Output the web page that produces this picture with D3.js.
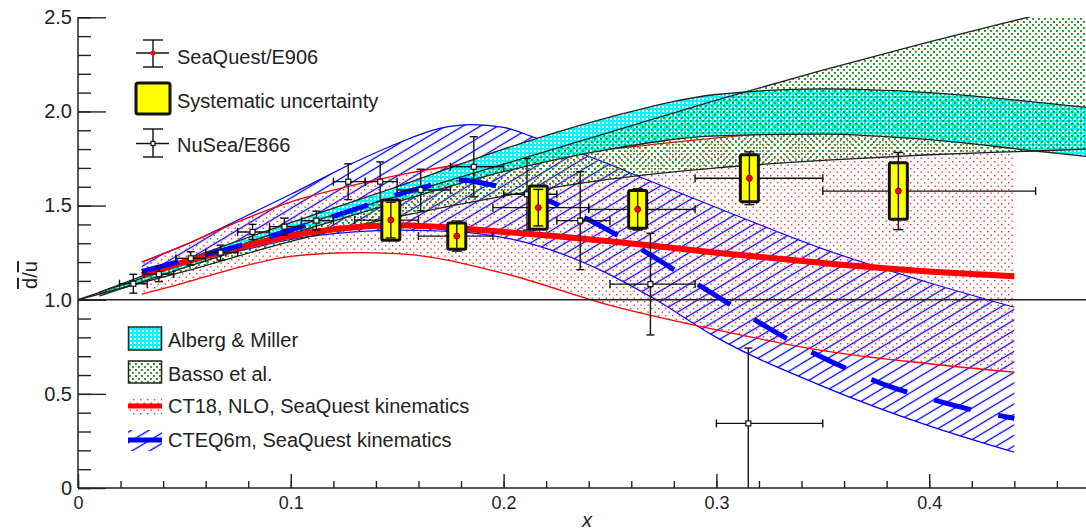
<!DOCTYPE html>
<html>
<head>
<meta charset="utf-8">
<script src="https://cdn.jsdelivr.net/npm/d3@7"></script>
<style>
  body { margin: 0; background: #fff; }
  svg { display: block; }
  text { font-family: "Liberation Sans", Arial, sans-serif; fill: #222; }
</style>
</head>
<body>
<div id="chart"></div>
<script>
const width = 1086;
const height = 531;

// NuSea/E866 points
const e866X   = [0.026, 0.038, 0.053, 0.067, 0.082, 0.097, 0.112, 0.127, 0.142, 0.161, 0.186, 0.211, 0.236, 0.269, 0.315];
const e866Y   = [1.085, 1.136, 1.22, 1.25, 1.36, 1.388, 1.42, 1.627, 1.627, 1.583, 1.706, 1.56, 1.42, 1.083, 0.343];
const e866Err = [0.05, 0.04, 0.035, 0.04, 0.04, 0.045, 0.05, 0.095, 0.105, 0.11, 0.16, 0.19, 0.26, 0.27, 0.40];
const e866XLo = [0.0195, 0.031, 0.046, 0.06, 0.075, 0.09, 0.105, 0.12, 0.135, 0.15, 0.175, 0.2, 0.225, 0.25, 0.30];
const e866XHi = [0.0325, 0.045, 0.06, 0.075, 0.09, 0.105, 0.12, 0.135, 0.15, 0.175, 0.2, 0.225, 0.25, 0.29, 0.35];

// SeaQuest/E906 points
const sqX    = [0.147, 0.178, 0.2163, 0.263, 0.3155, 0.3855];
const sqY    = [1.423, 1.338, 1.489, 1.48, 1.645, 1.577];
const sqStat = [0.095, 0.08, 0.097, 0.11, 0.14, 0.205];
const sqSys  = [0.107, 0.07, 0.115, 0.10, 0.125, 0.15];
const sqXLo  = [0.13, 0.16, 0.195, 0.24, 0.29, 0.35];
const sqXHi  = [0.16, 0.195, 0.24, 0.29, 0.35, 0.45];

// CT18 NLO band
const ct18X   = [0.03, 0.05, 0.07, 0.1, 0.13, 0.15, 0.2, 0.25, 0.3, 0.35, 0.4, 0.44];
const ct18Mid = [1.13, 1.20, 1.26, 1.34, 1.385, 1.395, 1.36, 1.31, 1.25, 1.195, 1.15, 1.125];
const ct18Hi  = [1.20, 1.29, 1.39, 1.52, 1.61, 1.66, 1.75, 1.80, 1.86, 1.91, 1.95, 1.98];
const ct18Lo  = [1.03, 1.09, 1.155, 1.23, 1.25, 1.245, 1.14, 0.97, 0.84, 0.73, 0.66, 0.615];

// CTEQ6m band
const cteqX  = [0.03, 0.05, 0.08, 0.1, 0.13, 0.15, 0.17, 0.185, 0.2, 0.215, 0.245, 0.27, 0.3, 0.35, 0.4, 0.44];
const cteqHi = [1.20, 1.29, 1.45, 1.56, 1.73, 1.83, 1.91, 1.93, 1.915, 1.86, 1.74, 1.625, 1.49, 1.27, 1.09, 0.96];
const cteqLo = [1.13, 1.19, 1.27, 1.32, 1.36, 1.37, 1.365, 1.355, 1.33, 1.29, 1.16, 1.01, 0.80, 0.54, 0.33, 0.19];
const cteqMidX = [0.03, 0.05, 0.08, 0.1, 0.13, 0.16, 0.18, 0.2, 0.22, 0.24, 0.26, 0.28, 0.3, 0.32, 0.34, 0.36, 0.38, 0.4, 0.42, 0.44];
const cteqMid  = [1.15, 1.21, 1.30, 1.37, 1.48, 1.59, 1.635, 1.595, 1.53, 1.425, 1.30, 1.16, 1.02, 0.88, 0.75, 0.64, 0.545, 0.475, 0.415, 0.37];

// Alberg & Miller band
const amX  = [0.01, 0.05, 0.1, 0.15, 0.2, 0.25, 0.3, 0.35, 0.4, 0.45, 0.5];
const amHi = [1.04, 1.21, 1.41, 1.60, 1.80, 1.97, 2.09, 2.12, 2.10, 2.05, 1.99];
const amLo = [1.02, 1.17, 1.35, 1.52, 1.68, 1.80, 1.87, 1.88, 1.85, 1.79, 1.73];

// Basso et al. band
const bassoX  = [0, 0.05, 0.1, 0.15, 0.2, 0.25, 0.3, 0.35, 0.4, 0.45, 0.5];
const bassoHi = [1.0, 1.19, 1.38, 1.55, 1.72, 1.89, 2.06, 2.22, 2.37, 2.51, 2.65];
const bassoLo = [1.0, 1.15, 1.31, 1.44, 1.55, 1.64, 1.70, 1.74, 1.77, 1.79, 1.81];

const xMajor = [0, 0.1, 0.2, 0.3, 0.4];
const yMajor = [0, 0.5, 1.0, 1.5, 2.0, 2.5];

const svg = d3.select('#chart').append('svg').attr('width', width).attr('height', height);

const x = d3.scaleLinear().domain([0, 0.5]).range([78, 1142]);
const y = d3.scaleLinear().domain([0, 2.5]).range([488, 17.3]);

const defs = svg.append('defs');
defs.append('clipPath').attr('id', 'plotClip')
  .append('rect').attr('x', 78).attr('y', 17).attr('width', 1100).attr('height', 471);

const hatch = defs.append('pattern').attr('id', 'hatch').attr('patternUnits', 'userSpaceOnUse')
  .attr('width', 10).attr('height', 9).attr('patternTransform', 'rotate(-31)');
hatch.append('line').attr('x1', 0).attr('x2', 10).attr('y1', 4.5).attr('y2', 4.5)
  .attr('stroke', '#0000ff').attr('stroke-width', 1.3);

const rdots = defs.append('pattern').attr('id', 'reddots').attr('patternUnits', 'userSpaceOnUse')
  .attr('width', 7).attr('height', 7);
rdots.append('rect').attr('x', 0).attr('y', 0).attr('width', 1.4).attr('height', 1.4).attr('fill', '#ff2a2a');
rdots.append('rect').attr('x', 3.5).attr('y', 3.5).attr('width', 1.4).attr('height', 1.4).attr('fill', '#ff2a2a');

const gdots = defs.append('pattern').attr('id', 'greendots').attr('patternUnits', 'userSpaceOnUse')
  .attr('width', 6).attr('height', 6);
gdots.append('rect').attr('x', 0).attr('y', 0).attr('width', 1.9).attr('height', 1.9).attr('fill', '#159a15');
gdots.append('rect').attr('x', 3).attr('y', 3).attr('width', 1.9).attr('height', 1.9).attr('fill', '#159a15');

const cyan = defs.append('pattern').attr('id', 'cyanfill').attr('patternUnits', 'userSpaceOnUse')
  .attr('width', 4).attr('height', 4);
cyan.append('rect').attr('width', 4).attr('height', 4).attr('fill', '#00f8f8');
cyan.append('rect').attr('x', 2).attr('y', 2).attr('width', 2).attr('height', 2).attr('fill', '#ffffff');

const line = d3.line().x(d => x(d[0])).y(d => y(d[1])).curve(d3.curveMonotoneX);
const area = d3.area().x(d => x(d[0])).y0(d => y(d[1])).y1(d => y(d[2])).curve(d3.curveMonotoneX);

const zip = (xs, ys) => xs.map((v, i) => [v, ys[i]]);
const zip3 = (xs, lo, hi) => xs.map((v, i) => [v, lo[i], hi[i]]);

const plot = svg.append('g').attr('clip-path', 'url(#plotClip)');

// CTEQ6m band
plot.append('path').attr('d', area(zip3(cteqX, cteqLo, cteqHi))).attr('fill', 'url(#hatch)');
[cteqHi, cteqLo].forEach(s => plot.append('path').attr('d', line(zip(cteqX, s)))
  .attr('fill', 'none').attr('stroke', '#0000ff').attr('stroke-width', 1.2));

// CT18 band
plot.append('path').attr('d', area(zip3(ct18X, ct18Lo, ct18Hi))).attr('fill', 'url(#reddots)');
[ct18Hi, ct18Lo].forEach(s => plot.append('path').attr('d', line(zip(ct18X, s)))
  .attr('fill', 'none').attr('stroke', '#ff0000').attr('stroke-width', 1.3));

// Alberg & Miller, Basso
plot.append('path').attr('d', area(zip3(amX, amLo, amHi))).attr('fill', 'url(#cyanfill)');
plot.append('path').attr('d', area(zip3(bassoX, bassoLo, bassoHi))).attr('fill', 'url(#greendots)');
[[amX, amHi], [amX, amLo], [bassoX, bassoHi], [bassoX, bassoLo]].forEach(([xs, s]) =>
  plot.append('path').attr('d', line(zip(xs, s)))
    .attr('fill', 'none').attr('stroke', '#222').attr('stroke-width', 1.3));

// unity line
plot.append('line').attr('x1', x(0)).attr('x2', width).attr('y1', y(1)).attr('y2', y(1))
  .attr('stroke', '#222').attr('stroke-width', 1.5);

// central curves
plot.append('path').attr('d', line(zip(ct18X, ct18Mid)))
  .attr('fill', 'none').attr('stroke', '#ff0000').attr('stroke-width', 6);
plot.append('path').attr('d', line(zip(cteqMidX, cteqMid)))
  .attr('fill', 'none').attr('stroke', '#0000ff').attr('stroke-width', 5)
  .attr('stroke-dasharray', '38,28');

// E866 points
const bar = (g, x1, y1, x2, y2) => g.append('line').attr('x1', x1).attr('y1', y1).attr('x2', x2).attr('y2', y2)
  .attr('stroke', '#111').attr('stroke-width', 1.4);

const e866 = plot.append('g');
e866X.forEach((xv, i) => {
  const cx = x(xv), cy = y(e866Y[i]);
  const yt = y(e866Y[i] + e866Err[i]), yb = y(e866Y[i] - e866Err[i]);
  const xl = x(e866XLo[i]), xr = x(e866XHi[i]);
  bar(e866, xl, cy, xr, cy);
  bar(e866, xl, cy - 4, xl, cy + 4);
  bar(e866, xr, cy - 4, xr, cy + 4);
  bar(e866, cx, yt, cx, yb);
  bar(e866, cx - 4, yt, cx + 4, yt);
  bar(e866, cx - 4, yb, cx + 4, yb);
  e866.append('rect').attr('x', cx - 2.5).attr('y', cy - 2.5).attr('width', 5).attr('height', 5)
    .attr('fill', '#fff').attr('stroke', '#111').attr('stroke-width', 1.2);
});

// SeaQuest points
const sq = plot.append('g');
sqX.forEach((xv, i) => {
  const cx = x(xv), cy = y(sqY[i]);
  const xl = x(sqXLo[i]), xr = x(sqXHi[i]);
  bar(sq, xl, cy, xr, cy);
  bar(sq, xl, cy - 4, xl, cy + 4);
  bar(sq, xr, cy - 4, xr, cy + 4);
  const st = y(sqY[i] + sqSys[i]), sb = y(sqY[i] - sqSys[i]);
  sq.append('rect').attr('x', cx - 9).attr('y', st).attr('width', 18).attr('height', sb - st)
    .attr('rx', 1.5).attr('fill', '#ffff00').attr('stroke', '#111').attr('stroke-width', 3);
  const yt = y(sqY[i] + sqStat[i]), yb = y(sqY[i] - sqStat[i]);
  bar(sq, cx, yt, cx, yb);
  bar(sq, cx - 5, yt, cx + 5, yt);
  bar(sq, cx - 5, yb, cx + 5, yb);
  sq.append('circle').attr('cx', cx).attr('cy', cy).attr('r', 3)
    .attr('fill', '#ff0000').attr('stroke', '#550000').attr('stroke-width', 0.8);
});

// axes
const fmt = d => d === 0 ? '0' : d3.format('.1f')(d);
const axisStyle = size => g => {
  g.selectAll('.domain').remove();
  g.selectAll('line').attr('stroke', '#222').attr('stroke-width', 1.4);
  g.selectAll('text').attr('font-size', size).attr('font-family', '"Liberation Sans", Arial, sans-serif').attr('fill', '#222');
};

svg.append('g').attr('transform', 'translate(0,488)')
  .call(d3.axisBottom(x).tickValues(d3.range(0, 25).map(i => i * 0.02)).tickSize(-7).tickFormat(''))
  .call(axisStyle(18));
svg.append('g').attr('transform', 'translate(0,488)')
  .call(d3.axisBottom(x).tickValues(xMajor).tickSize(-14).tickPadding(8).tickFormat(fmt))
  .call(axisStyle(18));
svg.append('line').attr('x1', 78).attr('x2', width).attr('y1', 488).attr('y2', 488)
  .attr('stroke', '#222').attr('stroke-width', 1.5);

svg.append('g').attr('transform', 'translate(78,0)')
  .call(d3.axisLeft(y).tickValues(d3.range(0, 26).map(i => i * 0.1)).tickSize(-13).tickFormat(''))
  .call(axisStyle(20));
svg.append('g').attr('transform', 'translate(78,0)')
  .call(d3.axisLeft(y).tickValues(yMajor).tickSize(-28).tickPadding(6).tickFormat(fmt))
  .call(axisStyle(20));
svg.append('line').attr('x1', 78).attr('x2', 78).attr('y1', 17).attr('y2', 488)
  .attr('stroke', '#222').attr('stroke-width', 1.5);

// axis titles
svg.append('text').attr('x', 587).attr('y', 527).attr('text-anchor', 'middle')
  .attr('font-size', 20).attr('font-style', 'italic').text('x');
const yt = svg.append('text').attr('transform', 'translate(37,275) rotate(-90)')
  .attr('text-anchor', 'middle').attr('font-size', 20);
yt.append('tspan').style('text-decoration', 'overline').text('d');
yt.append('tspan').text('/');
yt.append('tspan').style('text-decoration', 'overline').text('u');

// legend (top)
const leg = svg.append('g');
bar(leg, 153, 40, 153, 67); bar(leg, 143, 40, 163, 40); bar(leg, 143, 67, 163, 67);
bar(leg, 136, 53, 169, 53);
leg.append('circle').attr('cx', 153).attr('cy', 53).attr('r', 2.5).attr('fill', '#ff0000');
leg.append('text').attr('x', 177).attr('y', 64).attr('font-size', 20).text('SeaQuest/E906');

leg.append('rect').attr('x', 136).attr('y', 83).attr('width', 34).attr('height', 31).attr('rx', 2)
  .attr('fill', '#ffff00').attr('stroke', '#111').attr('stroke-width', 3);
leg.append('text').attr('x', 177).attr('y', 108).attr('font-size', 20).text('Systematic uncertainty');

bar(leg, 153, 129, 153, 157); bar(leg, 143, 129, 163, 129); bar(leg, 143, 157, 163, 157);
bar(leg, 136, 143.5, 169, 143.5);
leg.append('rect').attr('x', 151).attr('y', 141.5).attr('width', 4).attr('height', 4)
  .attr('fill', '#fff').attr('stroke', '#111').attr('stroke-width', 1.2);
leg.append('text').attr('x', 177).attr('y', 152).attr('font-size', 20).text('NuSea/E866');

// legend (bottom)
const leg2 = svg.append('g');
leg2.append('rect').attr('x', 128.5).attr('y', 327).attr('width', 33).attr('height', 23)
  .attr('fill', 'url(#cyanfill)').attr('stroke', '#222').attr('stroke-width', 1.5);
leg2.append('text').attr('x', 168).attr('y', 347).attr('font-size', 20).text('Alberg & Miller');

leg2.append('rect').attr('x', 128.5).attr('y', 361).attr('width', 33).attr('height', 22)
  .attr('fill', 'url(#greendots)').attr('stroke', '#222').attr('stroke-width', 1.5);
leg2.append('text').attr('x', 168).attr('y', 381).attr('font-size', 20).text('Basso et al.');

leg2.append('rect').attr('x', 128).attr('y', 397).attr('width', 34).attr('height', 18).attr('fill', 'url(#reddots)');
leg2.append('line').attr('x1', 128).attr('x2', 162).attr('y1', 406).attr('y2', 406)
  .attr('stroke', '#ff0000').attr('stroke-width', 5);
leg2.append('text').attr('x', 168).attr('y', 413).attr('font-size', 20).text('CT18, NLO, SeaQuest kinematics');

leg2.append('rect').attr('x', 128).attr('y', 430).attr('width', 34).attr('height', 21).attr('fill', 'url(#hatch)');
leg2.append('line').attr('x1', 128).attr('x2', 162).attr('y1', 440).attr('y2', 440)
  .attr('stroke', '#0000ff').attr('stroke-width', 5);
leg2.append('text').attr('x', 168).attr('y', 447).attr('font-size', 20).text('CTEQ6m, SeaQuest kinematics');
</script>
</body>
</html>
